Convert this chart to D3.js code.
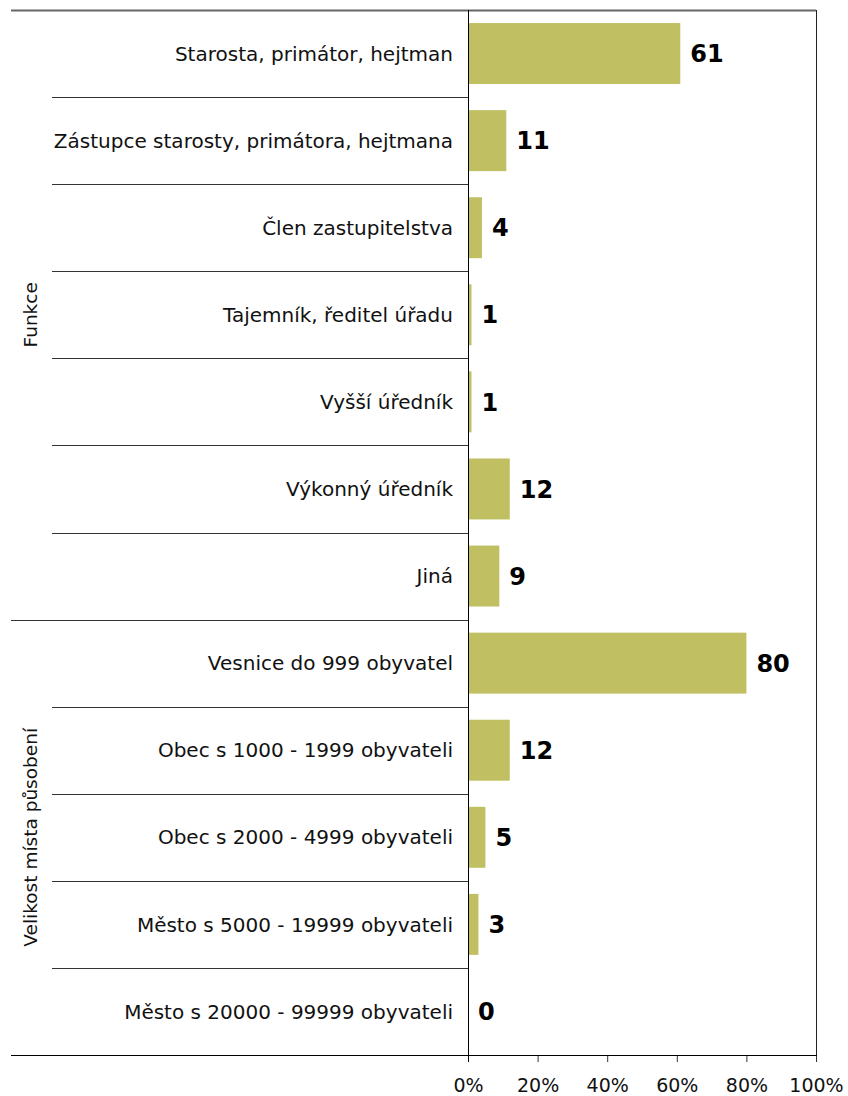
<!DOCTYPE html>
<html>
<head>
<meta charset="utf-8">
<script src="https://cdn.jsdelivr.net/npm/d3@7"></script>
<style>
  body { margin: 0; background: #fff; }
  svg text { font-family: "DejaVu Sans", Verdana, sans-serif; }
</style>
</head>
<body>
<div id="chart"></div>
<script>
// categories, grouped top to bottom
const categories = [
    "Starosta, primátor, hejtman",
    "Zástupce starosty, primátora, hejtmana",
    "Člen zastupitelstva",
    "Tajemník, ředitel úřadu",
    "Vyšší úředník",
    "Výkonný úředník",
    "Jiná",
    "Vesnice do 999 obyvatel",
    "Obec s 1000 - 1999 obyvateli",
    "Obec s 2000 - 4999 obyvateli",
    "Město s 5000 - 19999 obyvateli",
    "Město s 20000 - 99999 obyvateli"
];
const values = [61, 11, 4, 1, 1, 12, 9, 80, 12, 5, 3, 0];
const groups = ["Funkce", "Velikost místa působení"];
const groupSizes = [7, 5];
const tickValues = [0, 20, 40, 60, 80, 100];

const width = 848, height = 1096;
const margin = {top: 10, right: 32, bottom: 41, left: 468};
const lineLeft = 11, sepLeft = 52;

const svg = d3.select("#chart").append("svg")
    .attr("width", width)
    .attr("height", height);

const x = d3.scaleLinear()
    .domain([0, 100])
    .range([margin.left, width - margin.right]);

const y = d3.scaleBand()
    .domain(categories)
    .range([margin.top, height - margin.bottom])
    .paddingInner(0.3)
    .paddingOuter(0.15);

const step = y.step();
const bandTop = (c) => y(c) - y.paddingInner() * step / 2;

// separators between rows
const groupStarts = [];
let acc = 0;
groupSizes.forEach(n => { groupStarts.push(acc); acc += n; });

categories.forEach((c, i) => {
    if (i === 0) return;
    const yy = Math.round(bandTop(c)) + 0.5;
    svg.append("line")
        .attr("x1", groupStarts.includes(i) ? lineLeft : sepLeft)
        .attr("x2", margin.left)
        .attr("y1", yy).attr("y2", yy)
        .attr("stroke", "#333")
        .attr("stroke-width", 1);
});

// top border
svg.append("line")
    .attr("x1", lineLeft).attr("x2", x(100))
    .attr("y1", margin.top + 0.5).attr("y2", margin.top + 0.5)
    .attr("stroke", "#666")
    .attr("stroke-width", 2);

// right border
svg.append("line")
    .attr("x1", x(100) + 0.5).attr("x2", x(100) + 0.5)
    .attr("y1", margin.top).attr("y2", height - margin.bottom)
    .attr("stroke", "#222");

// bars
svg.selectAll(".bar")
    .data(categories)
    .join("rect")
    .attr("class", "bar")
    .attr("x", x(0))
    .attr("y", d => y(d))
    .attr("height", y.bandwidth())
    .attr("width", (d, i) => x(values[i]) - x(0))
    .attr("fill", "#c0bf62");

// value labels
svg.selectAll(".val")
    .data(categories)
    .join("text")
    .attr("class", "val")
    .attr("x", (d, i) => x(values[i]) + 10)
    .attr("y", d => y(d) + y.bandwidth() / 2)
    .attr("dy", "0.36em")
    .attr("font-size", 24)
    .attr("font-weight", "bold")
    .attr("fill", "#000")
    .text((d, i) => values[i]);

// category labels
svg.selectAll(".cat")
    .data(categories)
    .join("text")
    .attr("class", "cat")
    .attr("x", margin.left - 15)
    .attr("y", d => y(d) + y.bandwidth() / 2)
    .attr("dy", "0.36em")
    .attr("text-anchor", "end")
    .attr("font-size", 20)
    .attr("fill", "#111")
    .text(d => d);

// group labels
groups.forEach((g, gi) => {
    const first = categories[groupStarts[gi]];
    const last = categories[groupStarts[gi] + groupSizes[gi] - 1];
    const y0 = bandTop(first);
    const y1 = bandTop(last) + step;
    svg.append("text")
        .attr("transform", `translate(30,${(y0 + y1) / 2}) rotate(-90)`)
        .attr("text-anchor", "middle")
        .attr("dy", "0.36em")
        .attr("font-size", 18.5)
        .attr("fill", "#111")
        .text(g);
});

// x axis
const xAxis = svg.append("g")
    .attr("transform", `translate(0,${height - margin.bottom})`)
    .call(d3.axisBottom(x)
        .tickValues(tickValues)
        .tickSize(7)
        .tickPadding(17)
        .tickFormat(d => d + "%"));
xAxis.select(".domain").remove();
xAxis.selectAll("text")
    .attr("font-size", 19)
    .attr("font-family", "DejaVu Sans, Verdana, sans-serif")
    .attr("fill", "#111");
xAxis.selectAll("line").attr("stroke", "#333");

svg.append("line")
    .attr("x1", lineLeft).attr("x2", x(100) + 1)
    .attr("y1", height - margin.bottom + 0.5).attr("y2", height - margin.bottom + 0.5)
    .attr("stroke", "#000");

// zero line
svg.append("line")
    .attr("x1", x(0) + 0.5).attr("x2", x(0) + 0.5)
    .attr("y1", margin.top).attr("y2", height - margin.bottom + 7)
    .attr("stroke", "#000");
</script>
</body>
</html>
